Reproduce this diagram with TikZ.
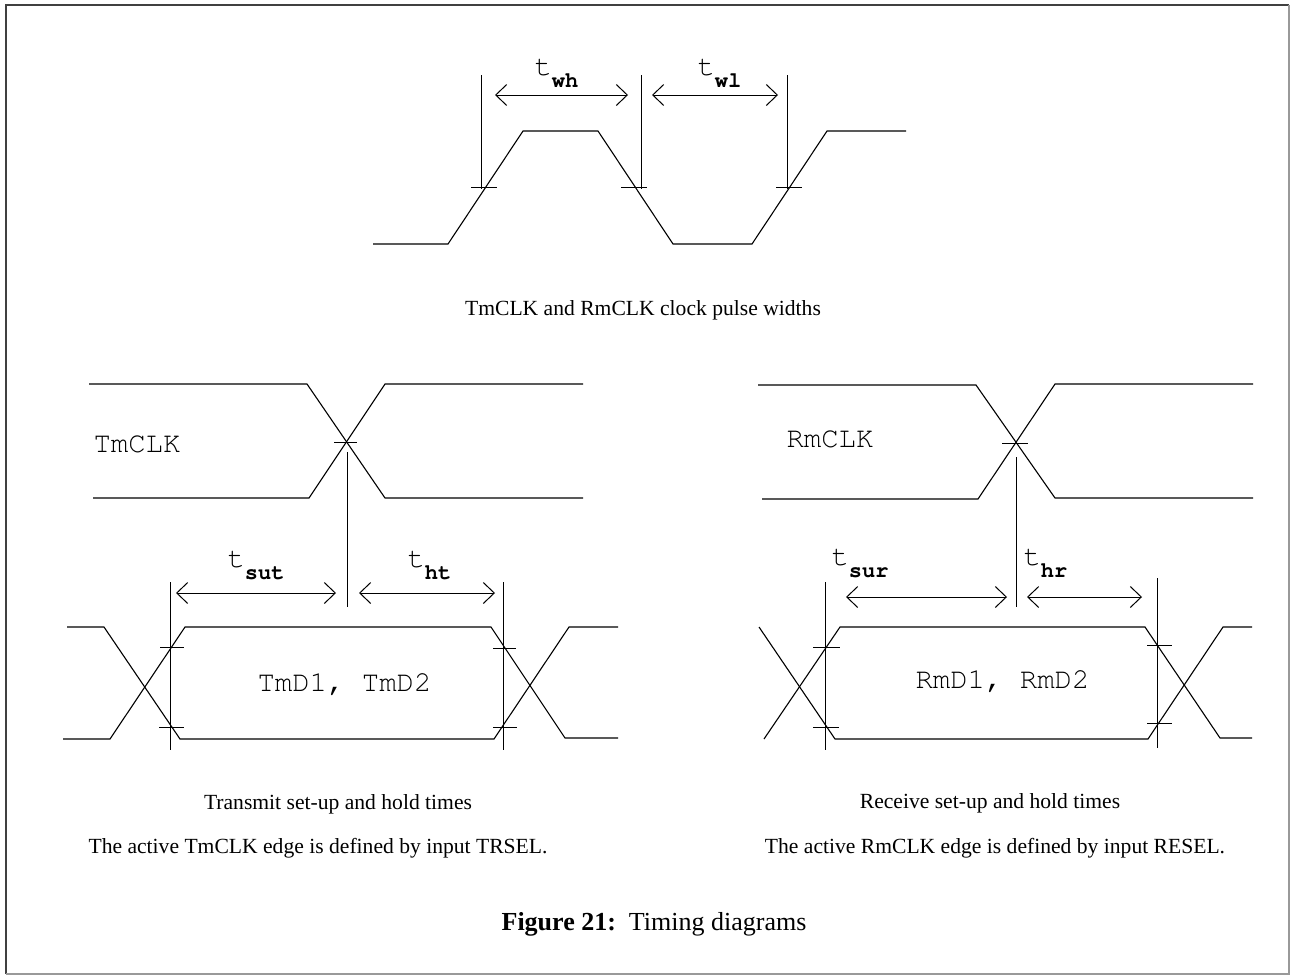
\documentclass[tikz,border=0pt]{standalone}
\usepackage[T1]{fontenc}
\usepackage{fontspec}
\setmainfont{Liberation Serif}
\usetikzlibrary{arrows.meta}

\newcommand{\cour}{\fontencoding{T1}\fontfamily{pcr}\selectfont}
\newcommand{\tsub}[1]{t\raisebox{-12pt}{\fontsize{22}{22}\selectfont\bfseries #1}}

\begin{document}
\begin{tikzpicture}[x=1pt, y=-1pt, line width=1pt,
    sig/.style={line width=1.1pt},
    dim/.style={line width=1pt, {Straight Barb[length=11pt,width=21pt]}-{Straight Barb[length=11pt,width=21pt]}},
    mono/.style={font=\cour\fontsize{29}{30}\selectfont, inner sep=0pt, anchor=base west},
    captxt/.style={font=\fontsize{21.6}{24}\selectfont, inner sep=0pt, anchor=base}]
    \useasboundingbox (0,0) rectangle (1290,975);
    % frame
    \draw[line width=1.6pt, black!75] (6,974) -- (6,5) -- (1289,5);
    \draw[line width=1.6pt, black!40] (1289,5) -- (1289,974) -- (6,974);

    % clock pulse widths
    \draw[sig] (373,244) -- (448,244) -- (523,131) -- (598,131) -- (673,244) -- (752,244) -- (827,131) -- (906,131);
    \draw (471,187) -- (497,187) (621,187) -- (647,187) (776,187) -- (802,187);
    \draw (481,75) -- (481,189) (641,75) -- (641,189) (787,75) -- (787,189);
    \draw[dim] (495,95) -- (628,95);
    \draw[dim] (652,95) -- (778,95);
    \node[mono] (twh) at (534,75) {\tsub{wh}};
    \node[mono] (twl) at (697,75) {\tsub{wl}};
    \node[captxt] (capclk) at (643,315) {TmCLK and RmCLK clock pulse widths};

    % transmit set-up and hold
    \draw[sig] (89,384) -- (307,384) -- (385,498) -- (583,498);
    \draw[sig] (93,498) -- (309,498) -- (385,384) -- (583,384);
    \draw (334,442) -- (357,442) (347,452) -- (347,607);
    \node[mono] (tmclk) at (93,452) {TmCLK};
    \draw[dim] (176,593) -- (336,593);
    \draw[dim] (359,593) -- (495,593);
    \node[mono] (tsut) at (227,567) {\tsub{sut}};
    \node[mono] (tht) at (407,567) {\tsub{ht}};
    \draw (170,582) -- (170,750) (503.5,582) -- (503.5,750);
    \draw[sig] (67,627) -- (104,627) -- (180,739) -- (494,739) -- (569,627) -- (618,627);
    \draw[sig] (63,739) -- (110,739) -- (185,627) -- (491,627) -- (565,738) -- (618,738);
    \draw (160,647) -- (184,647) (159,727) -- (184,727) (493,648) -- (516,648) (493,727) -- (517,727);
    \node[mono, anchor=center] (tmd) at (344.5,684) {TmD1, TmD2};
    \node[captxt] (capt) at (338,809) {Transmit set-up and hold times};
    \node[captxt] (notet) at (318,853) {The active TmCLK edge is defined by input TRSEL.};

    % receive set-up and hold
    \draw[sig] (758,385) -- (976,385) -- (1055,498) -- (1253,498);
    \draw[sig] (762,499) -- (978,499) -- (1055,384) -- (1253,384);
    \draw (1002,443) -- (1028,443) (1016,457) -- (1016,607);
    \node[mono] (rmclk) at (786,447) {RmCLK};
    \draw[dim] (846,597) -- (1007,597);
    \draw[dim] (1027,597) -- (1142,597);
    \node[mono] (tsur) at (831,565) {\tsub{sur}};
    \node[mono] (thr) at (1023,565) {\tsub{hr}};
    \draw (825,582) -- (825,750) (1157,578) -- (1157,748);
    \draw[sig] (759,627) -- (835,739) -- (1148,739) -- (1223,627) -- (1252,627);
    \draw[sig] (764,739) -- (840,627) -- (1145,627) -- (1220,738) -- (1252,738);
    \draw (813,647) -- (840,647) (813,727) -- (839,727) (1147,645) -- (1172,645) (1147,723) -- (1172,723);
    \node[mono, anchor=center] (rmd) at (1002.5,681) {RmD1, RmD2};
    \node[captxt] (capr) at (990,808) {Receive set-up and hold times};
    \node[captxt] (noter) at (995,853) {The active RmCLK edge is defined by input RESEL.};

    \node[captxt, font=\fontsize{26}{28}\selectfont] (fig) at (654,930) {\textbf{Figure 21:}\ \ Timing diagrams};
\end{tikzpicture}
\end{document}
